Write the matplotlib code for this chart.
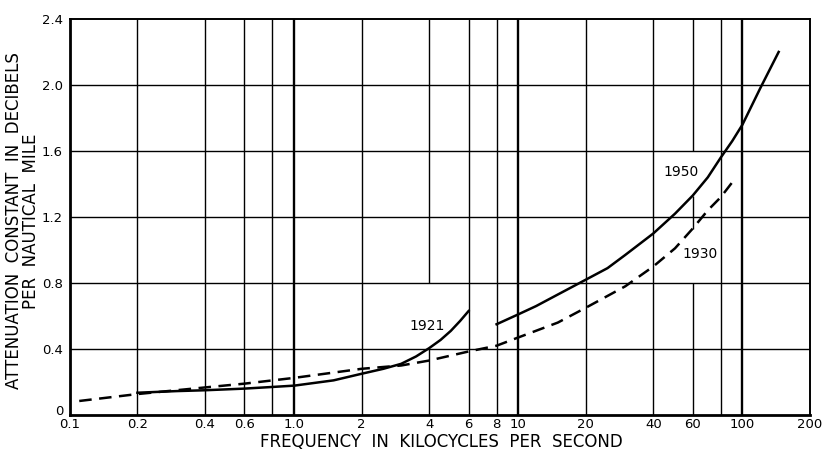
import numpy as np
import matplotlib.pyplot as plt
import matplotlib.transforms as mtransforms

# readings taken off the chart (frequency in kc/s, attenuation in db per nautical mile)
f_1921 = [0.2, 0.3, 0.4, 0.6, 0.8, 1.0, 1.5, 2, 2.5, 3, 3.5, 4, 4.5, 5, 5.5, 6]
a_1921 = [0.135, 0.145, 0.15, 0.16, 0.17, 0.178, 0.21, 0.25, 0.28, 0.31, 0.355, 0.405,
          0.455, 0.51, 0.57, 0.63]

f_1930 = [0.11, 0.2, 0.4, 0.6, 1.0, 2, 3, 4, 6, 8, 10, 15, 20, 30, 40, 50, 60, 70, 80, 90]
a_1930 = [0.085, 0.127, 0.167, 0.19, 0.225, 0.28, 0.30, 0.33, 0.385, 0.42, 0.47, 0.56,
          0.65, 0.78, 0.90, 1.01, 1.13, 1.24, 1.32, 1.41]

f_1950 = [8, 10, 12, 15, 20, 25, 30, 40, 50, 60, 70, 80, 90, 100, 120, 145]
a_1950 = [0.55, 0.61, 0.66, 0.73, 0.82, 0.89, 0.97, 1.10, 1.22, 1.33, 1.44, 1.56, 1.66,
          1.76, 1.98, 2.20]

xticks = [0.1, 0.2, 0.4, 0.6, 1.0, 2, 4, 6, 8, 10, 20, 40, 60, 100, 200]
xticklabels = ['0.1', '0.2', '0.4', '0.6', '1.0', '2', '4', '6', '8', '10', '20', '40', '60', '100', '200']
yticks = [0, 0.4, 0.8, 1.2, 1.6, 2.0, 2.4]
yticklabels = ['0', '0.4', '0.8', '1.2', '1.6', '2.0', '2.4']
vgrid = [0.2, 0.4, 0.6, 0.8, 1, 2, 4, 6, 8, 10, 20, 40, 60, 80, 100]

fig = plt.figure(figsize=(8.26, 4.51), dpi=100)
ax = fig.add_axes([0.0847, 0.0798, 0.8959, 0.8782])
ax.set_xscale('log')
ax.set_xlim(0.1, 200)
ax.set_ylim(0, 2.4)

# grid, with the gaps left around the curve labels
for x in vgrid:
    lw = 1.7 if x in (1, 10, 100) else 1.0
    if x == 4:
        segs = [(0, 0.4), (0.8, 2.4)]
    elif x == 60:
        segs = [(0, 0.8), (1.13, 1.33), (1.6, 2.4)]
    else:
        segs = [(0, 2.4)]
    for y0, y1 in segs:
        ax.vlines(x, y0, y1, color='black', lw=lw, zorder=1)
for y in yticks[1:-1]:
    ax.axhline(y, color='black', lw=1.0, zorder=1)

ax.plot(f_1921, a_1921, color='black', lw=1.8, zorder=3)
ax.plot(f_1930, a_1930, color='black', lw=1.8, ls=(0, (5, 3)), zorder=3)
ax.plot(f_1950, a_1950, color='black', lw=1.8, zorder=3)

ax.text(3.9, 0.54, '1921', fontsize=10, ha='center', va='center')
ax.text(53, 1.47, '1950', fontsize=10, ha='center', va='center')
ax.text(65, 0.975, '1930', fontsize=10, ha='center', va='center')

ax.set_xticks(xticks)
ax.set_xticklabels(xticklabels)
ax.xaxis.set_minor_locator(plt.NullLocator())
ax.set_yticks(yticks)
ax.set_yticklabels(yticklabels)
ax.tick_params(axis='both', length=0, labelsize=9.5)
ax.tick_params(axis='x', pad=2)
ax.tick_params(axis='y', pad=5)

# the "0" sits a little above the axis line, clear of "0.1"
zero = ax.get_yticklabels()[0]
zero.set_transform(zero.get_transform() + mtransforms.ScaledTranslation(0, 3.5 / 72, fig.dpi_scale_trans))

for s in ['left', 'bottom']:
    ax.spines[s].set_linewidth(2.0)
for s in ['top', 'right']:
    ax.spines[s].set_linewidth(1.4)

fig.text(0.534, 0.021, 'FREQUENCY  IN  KILOCYCLES  PER  SECOND', fontsize=12,
         ha='center', va='center')
fig.text(0.017, 0.51, 'ATTENUATION  CONSTANT  IN  DECIBELS', fontsize=12,
         rotation=90, ha='center', va='center')
fig.text(0.037, 0.51, 'PER  NAUTICAL  MILE', fontsize=12,
         rotation=90, ha='center', va='center')

fig.savefig('out.png', dpi=100)
